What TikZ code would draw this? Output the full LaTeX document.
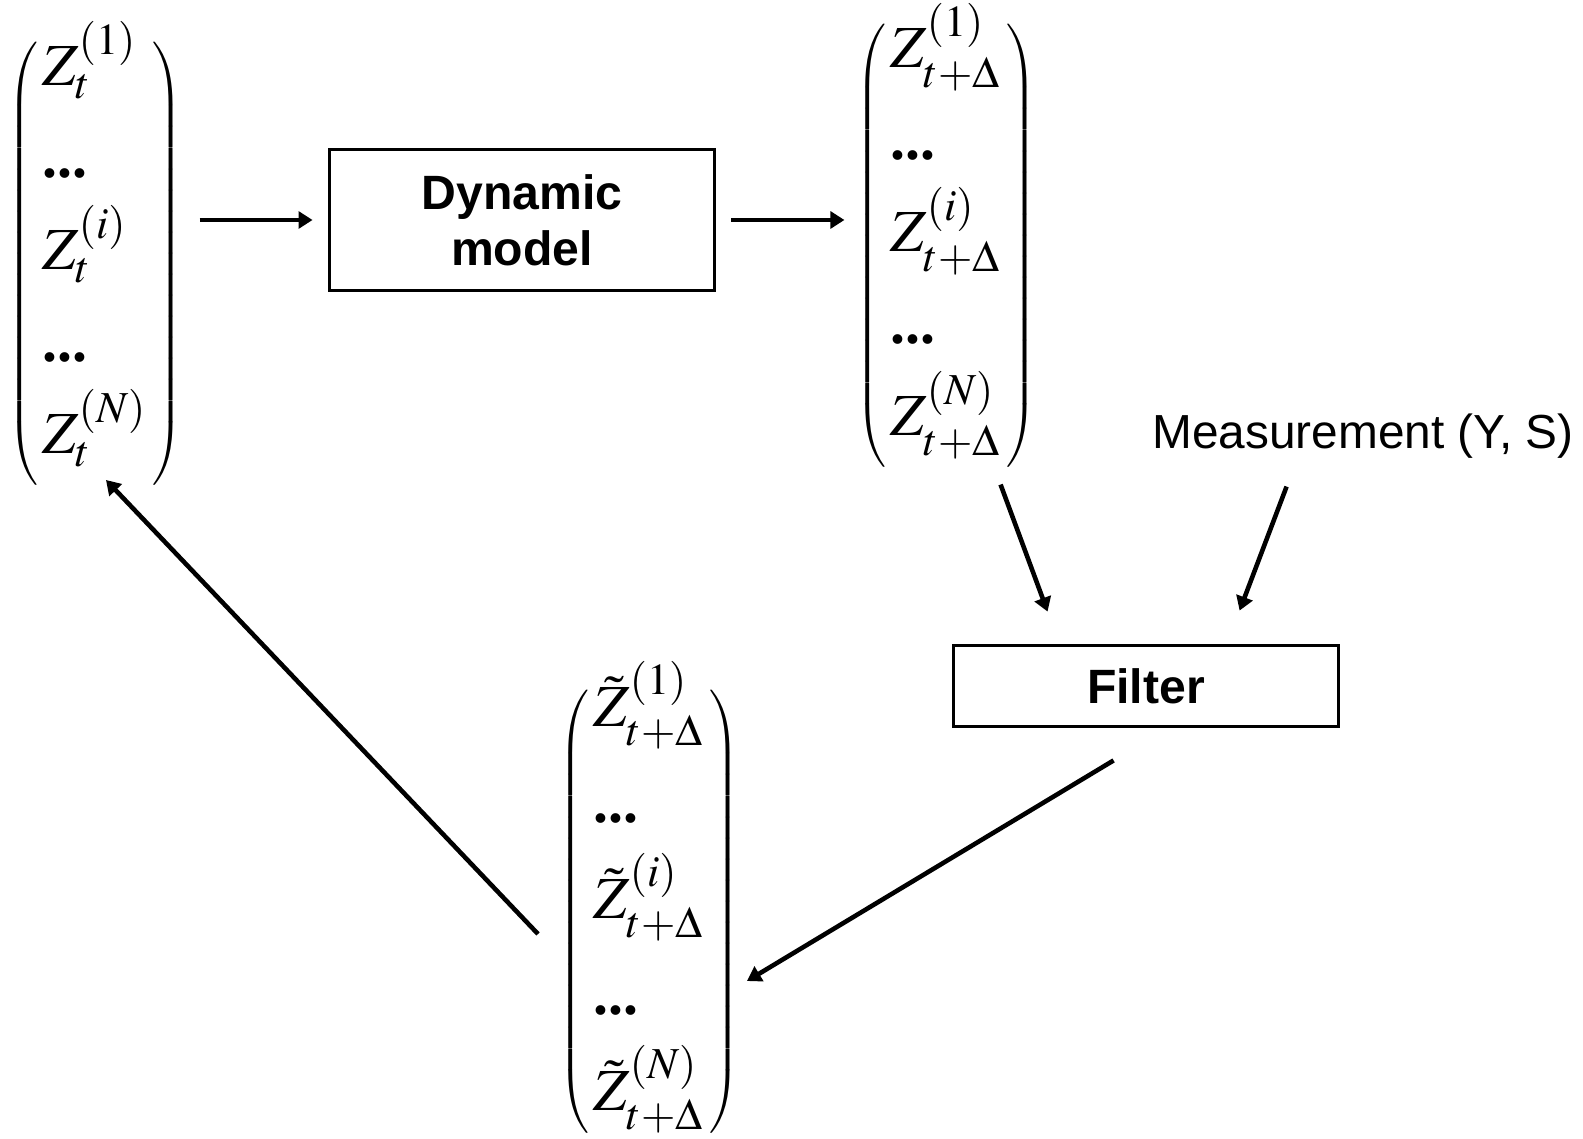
\documentclass[tikz,border=0pt]{standalone}
\usepackage{amsmath,amssymb}
\usepackage{mathptmx}
\usepackage[no-math]{fontspec}
\setmainfont{Liberation Sans}
\newfontfamily\dotsfont{Liberation Serif}
\newcommand{\vdotsrow}{\text{\dotsfont\bfseries ...}}
\usepackage{tikz}
\usetikzlibrary{arrows.meta,positioning,calc,matrix}

\begin{document}
\begin{tikzpicture}[scale=1.0,
  vec/.style={matrix of math nodes,left delimiter=(,right delimiter=),
    inner sep=0pt,row sep=0.18cm,font=\fontsize{17}{20}\selectfont,
    nodes={inner sep=0pt,text height=0.43cm,text depth=0.31cm,anchor=base west,
      font=\fontsize{17}{20}\selectfont}},
  blk/.style={draw,line width=1.1pt,minimum width=3.85cm,align=center,
    font=\fontsize{13.7}{15.9}\selectfont\bfseries},
  arr/.style={line width=1.3pt,-{Triangle[length=4pt,width=4.8pt]}}]
  \useasboundingbox (0,0) rectangle (15.83,-11.38);
  \matrix (Zt) at (0.42,-2.64) [vec,anchor=west] {
    Z_t^{(1)} \\
    \vdotsrow \\
    Z_t^{(i)} \\
    \vdotsrow \\
    Z_t^{(N)} \\
  };
  \matrix (Zp) at (8.90,-2.46) [vec,anchor=west] {
    Z_{t+\Delta}^{(1)} \\
    \vdotsrow \\
    Z_{t+\Delta}^{(i)} \\
    \vdotsrow \\
    Z_{t+\Delta}^{(N)} \\
  };
  \matrix (Zf) at (5.93,-9.12) [vec,anchor=west,row sep=0.22cm] {
    \tilde{Z}_{t+\Delta}^{(1)} \\
    \vdotsrow \\
    \tilde{Z}_{t+\Delta}^{(i)} \\
    \vdotsrow \\
    \tilde{Z}_{t+\Delta}^{(N)} \\
  };
  \node[blk,minimum height=1.41cm] (dyn) at (5.22,-2.20) {Dynamic\\model};
  \node[blk,minimum height=0.81cm] (filt) at (11.46,-6.86) {Filter};
  \node[font=\fontsize{13.6}{16}\selectfont] (meas) at (13.63,-4.36) {Measurement (Y, S)};
  \draw[arr] ($(dyn.west)+(-1.28,0)$) -- ($(dyn.west)+(-0.15,0)$);
  \draw[arr] ($(dyn.east)+(0.15,0)$) -- ($(dyn.east)+(1.28,0)$);
  \draw[arr] ($(filt.north west)+(0.49,1.59)$) -- ($(filt.north west)+(0.96,0.32)$);
  \draw[arr] ($(filt.north west)+(3.35,1.57)$) -- ($(filt.north west)+(2.88,0.33)$);
  \draw[arr] ($(filt.south west)+(1.62,-0.32)$) -- ($(Zf.west)+(1.54,-0.69)$);
  \draw[arr] ($(Zf.west)+(-0.55,-0.22)$) -- ($(Zt.west)+(0.64,-2.16)$);
\end{tikzpicture}
\end{document}
